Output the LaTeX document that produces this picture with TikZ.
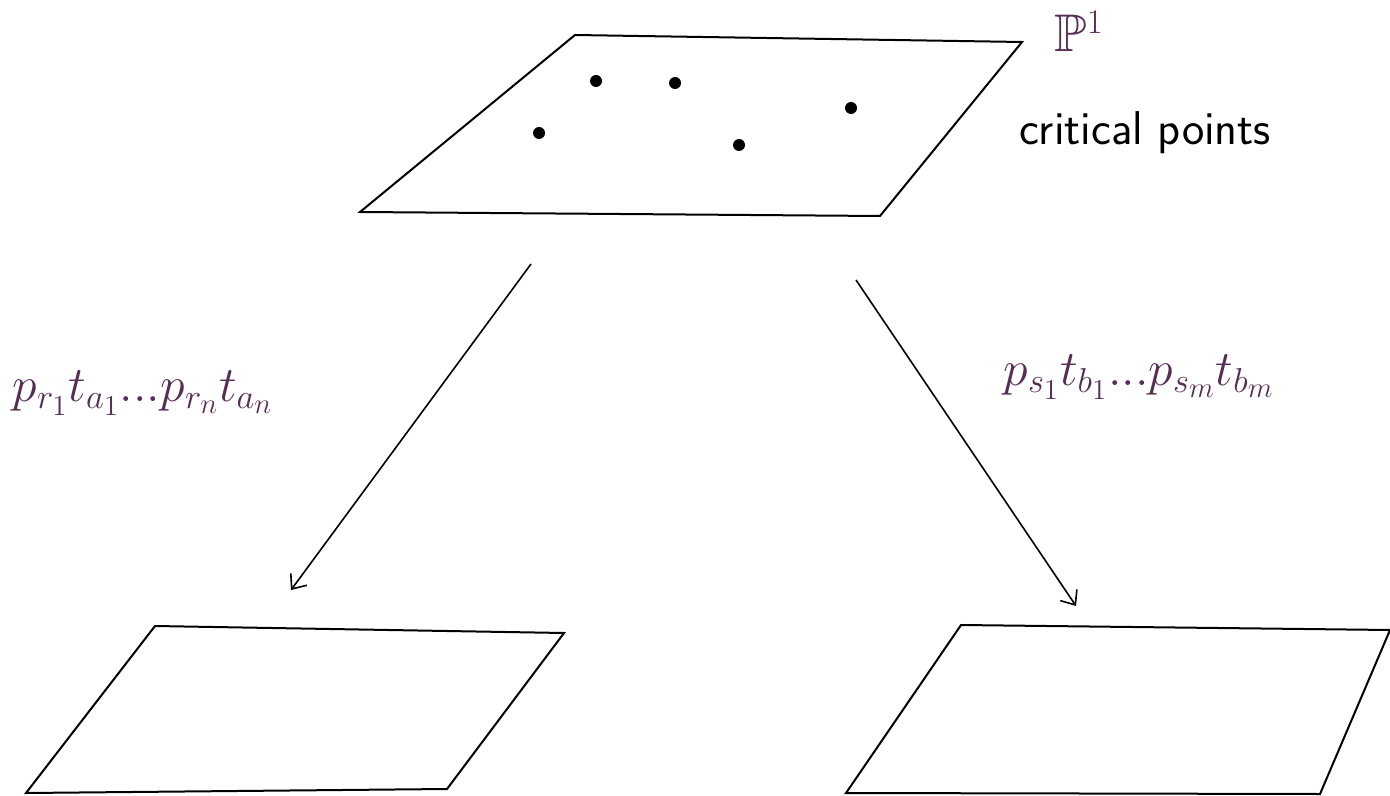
\documentclass[tikz,border=0pt]{standalone}
\usepackage{amssymb}
\usetikzlibrary{arrows.meta}
\definecolor{labpurple}{RGB}{85,45,85}
\begin{document}
\begin{tikzpicture}[x=0.5pt,y=-0.5pt,
  plane/.style={draw=black,line width=1pt,line join=miter},
  arr/.style={line width=0.8pt,-{Straight Barb[length=6pt,width=10pt,line width=0.8pt]}},
  crit/.style={fill=black,circle,inner sep=0pt,minimum size=6pt},
  mlab/.style={text=labpurple,font=\fontsize{26.5}{30}\selectfont,inner sep=0pt},
  tlab/.style={font=\fontsize{23.7}{28}\selectfont\sffamily,inner sep=0pt}]
\useasboundingbox (0,0) rectangle (1390,796);
% top plane
\coordinate (t1) at (575,35);
\coordinate (t2) at (1022,42);
\coordinate (t3) at (880,216);
\coordinate (t4) at (360,212);
\draw[plane] (t1) -- (t2) -- (t3) -- (t4) -- cycle;
% bottom left plane
\coordinate (l1) at (155,626);
\coordinate (l2) at (564,633);
\coordinate (l3) at (447,789);
\coordinate (l4) at (26,793);
\draw[plane] (l1) -- (l2) -- (l3) -- (l4) -- cycle;
% bottom right plane
\coordinate (r1) at (961,625);
\coordinate (r2) at (1390,630);
\coordinate (r3) at (1320,794);
\coordinate (r4) at (846,793);
\draw[plane] (r1) -- (r2) -- (r3) -- (r4) -- cycle;
% critical points
\node[crit] (d1) at (596,81) {};
\node[crit] (d2) at (675,83) {};
\node[crit] (d3) at (851,108) {};
\node[crit] (d4) at (539,133) {};
\node[crit] (d5) at (739,145) {};
% arrows
\coordinate (a1s) at (531,264);
\coordinate (a1e) at (291,590);
\coordinate (a2s) at (856,280);
\coordinate (a2e) at (1076,606);
\draw[arr] (a1s) -- (a1e);
\draw[arr] (a2s) -- (a2e);
% labels
\node[mlab] (P1) at (1079,31) {$\mathbb{P}^1$};
\node[tlab] (cp) at (1145,133) {critical points};
\node[mlab] (ml) at (143,393) {$p_{r_1}t_{a_1}...p_{r_n}t_{a_n}$};
\node[mlab] (mr) at (1139,377) {$p_{s_1}t_{b_1}...p_{s_m}t_{b_m}$};
\end{tikzpicture}
\end{document}
